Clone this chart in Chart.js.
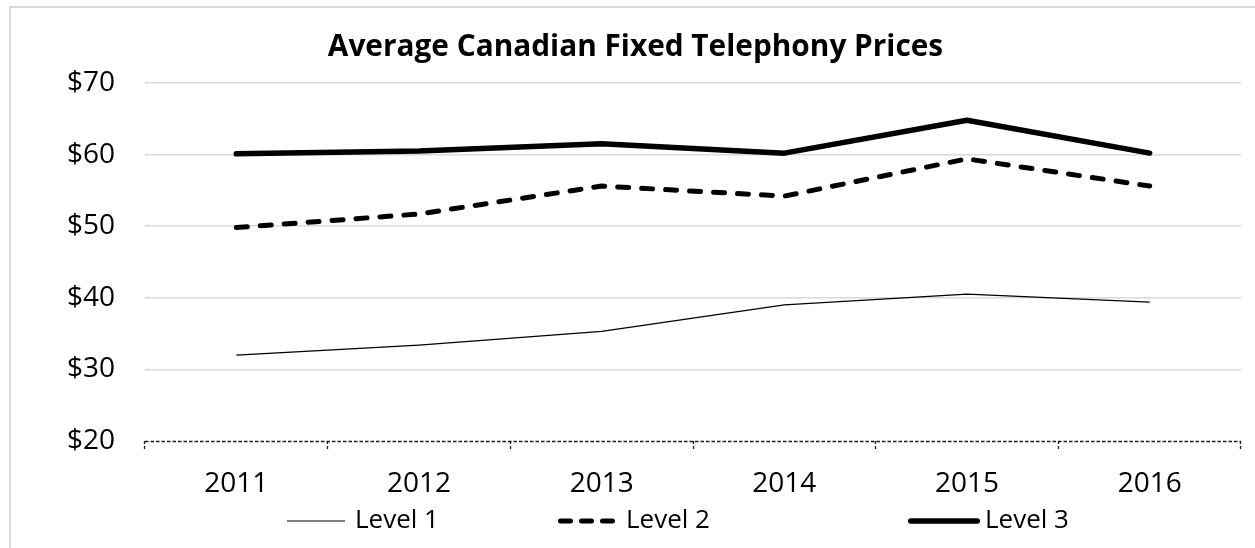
<!DOCTYPE html>
<html lang="en">
<head>
  <meta charset="UTF-8" />
  <title>Average Canadian Fixed Telephony Prices</title>
  <script src="https://cdn.jsdelivr.net/npm/chart.js"></script>
  <style>
    html, body { margin: 0; padding: 0; background: #fff; overflow: hidden; }
    .frame { position: absolute; left: 9px; top: 6px; width: 1400px; height: 700px; border: 2px solid #d9d9d9; }
    .chart-box { position: absolute; left: 0; top: 0; width: 1255px; height: 548px; }
  </style>
</head>
<body>
  <div class="frame"></div>
  <div class="chart-box"><canvas id="priceChart"></canvas></div>

  <script>
    const years = ["2011", "2012", "2013", "2014", "2015", "2016"];
    const level1 = [32.0, 33.4, 35.3, 39.0, 40.5, 39.4];
    const level2 = [49.8, 51.7, 55.6, 54.2, 59.4, 55.6];
    const level3 = [60.1, 60.5, 61.5, 60.2, 64.8, 60.2];
    const yTicks = [20, 30, 40, 50, 60, 70];

    const FONT = "'Open Sans', 'Noto Sans', sans-serif";

    // Chart.js draws the axis border solid, so the dashed base line is drawn here
    const dashedAxis = {
      id: "dashedAxis",
      beforeDatasetsDraw(chart) {
        const { ctx, chartArea, scales } = chart;
        const y = Math.round(scales.y.getPixelForValue(yTicks[0])) + 0.5;
        ctx.save();
        ctx.strokeStyle = "#1a1a1a";
        ctx.lineWidth = 1.4;
        ctx.setLineDash([3.5, 2]);
        ctx.beginPath();
        ctx.moveTo(chartArea.left, y);
        ctx.lineTo(chartArea.right, y);
        ctx.stroke();
        ctx.restore();
      }
    };

    // legend entries are drawn by hand below the axis, like the Excel original
    const legendX = [287, 558, 908];
    const legendLen = [58, 58, 72];
    const legendTextX = [355, 626, 985];
    const bottomLegend = {
      id: "bottomLegend",
      afterDraw(chart) {
        const ctx = chart.ctx;
        const y = 521;
        ctx.save();
        ctx.font = "26px " + FONT;
        ctx.textBaseline = "middle";
        ctx.fillStyle = "#000";
        chart.data.datasets.forEach((ds, i) => {
          const x = legendX[i];
          const cap = ds.borderWidth > 2 ? ds.borderWidth / 2 : 0;
          ctx.beginPath();
          ctx.strokeStyle = ds.borderColor;
          ctx.lineWidth = ds.borderWidth;
          ctx.lineCap = ds.borderCapStyle;
          ctx.setLineDash(ds.legendDash || []);
          ctx.moveTo(x + cap, y);
          ctx.lineTo(x + legendLen[i] - cap, y);
          ctx.stroke();
          ctx.setLineDash([]);
          ctx.fillText(ds.label, legendTextX[i], y);
        });
        ctx.restore();
      }
    };

    const ctx = document.getElementById("priceChart").getContext("2d");
    new Chart(ctx, {
      type: "line",
      data: {
        labels: years,
        datasets: [
          {
            label: "Level 1",
            data: level1,
            borderColor: "#000",
            borderWidth: 1.2,
            borderCapStyle: "butt",
            pointRadius: 0,
            fill: false
          },
          {
            label: "Level 2",
            data: level2,
            borderColor: "#000",
            borderWidth: 5,
            borderDash: [11, 13],
            borderCapStyle: "round",
            borderJoinStyle: "round",
            legendDash: [10, 11],
            pointRadius: 0,
            fill: false
          },
          {
            label: "Level 3",
            data: level3,
            borderColor: "#000",
            borderWidth: 5.5,
            borderCapStyle: "round",
            borderJoinStyle: "round",
            pointRadius: 0,
            fill: false
          }
        ]
      },
      options: {
        responsive: true,
        maintainAspectRatio: false,
        animation: false,
        layout: { padding: { left: 30, right: 14, top: 0, bottom: 0 } },
        plugins: {
          legend: { display: false },
          tooltip: { enabled: false },
          title: {
            display: true,
            text: "Average Canadian Fixed Telephony Prices",
            color: "#000",
            font: { family: FONT, size: 29.8, weight: "bold" },
            padding: { top: 30, bottom: 17.2 }
          }
        },
        scales: {
          x: {
            offset: true,
            grid: {
              offset: true,
              drawOnChartArea: false,
              drawTicks: true,
              tickLength: 9,
              tickColor: "#1a1a1a",
              tickWidth: 1.3,
              tickBorderDash: [3, 2]
            },
            border: { display: false },
            ticks: { color: "#000", font: { family: FONT, size: 28 }, padding: 17 },
            afterFit(scale) { scale.height = 107; }
          },
          y: {
            min: 20,
            max: 70,
            afterBuildTicks(scale) { scale.ticks = yTicks.map(v => ({ value: v })); },
            grid: {
              drawTicks: false,
              lineWidth: 1.5,
              color: c => (c.tick && c.tick.value === 20 ? "rgba(0,0,0,0)" : "#d9d9d9")
            },
            border: { display: false },
            ticks: {
              color: "#000",
              font: { family: FONT, size: 28 },
              padding: 30,
              callback: v => "$" + v
            },
            afterFit(scale) { scale.width = 115; }
          }
        }
      },
      plugins: [dashedAxis, bottomLegend]
    });
  </script>
</body>
</html>
